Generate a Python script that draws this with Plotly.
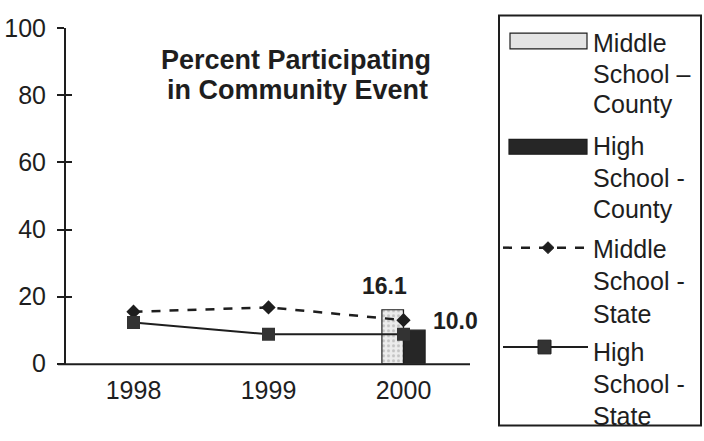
import plotly.graph_objects as go

W, H = 704, 441

years = ["1998", "1999", "2000"]
ms_county = [None, None, 16.1]
hs_county = [None, None, 10.0]
ms_state = [15.5, 16.8, 13.0]
hs_state = [12.3, 8.8, 8.8]
y_ticks = [0, 20, 40, 60, 80, 100]

FONT = "Arial, Liberation Sans, sans-serif"
INK = "#1e1e1e"

# the photographed page is squeezed vertically a little; positions below are
# given in photographed pixels and mapped back to figure pixels here
V_SCALE = 0.952
V_OFF = 11.0


def px(x):
    return x / W


def py(y_seen):
    y = y_seen / V_SCALE - V_OFF
    y = min(max(y, 0.5), H - 1.5)
    return 1 - y / H


fig = go.Figure()

fig.add_trace(go.Bar(
    x=years, y=ms_county, name="Middle School – County",
    marker=dict(color="#e8e8e8", line=dict(color=INK, width=1.2),
                pattern=dict(shape=".", fgcolor="#9a9a9a", bgcolor="#ececec", size=5, solidity=0.3)),
))
fig.add_trace(go.Bar(
    x=years, y=hs_county, name="High School - County",
    marker=dict(color="#262626", line=dict(color=INK, width=1.2)),
))
fig.add_trace(go.Scatter(
    x=years, y=ms_state, name="Middle School - State", mode="lines+markers",
    line=dict(color=INK, width=2.5, dash="dash"),
    marker=dict(symbol="diamond", size=11, color=INK),
))
fig.add_trace(go.Scatter(
    x=years, y=hs_state, name="High School - State", mode="lines+markers",
    line=dict(color=INK, width=2),
    marker=dict(symbol="square", size=13, color="#333333"),
))

# overlay axis for crossing tick marks
fig.add_trace(go.Scatter(x=[None], y=[None], yaxis="y2", showlegend=False, hoverinfo="skip"))

x_dom = [px(66), px(471)]
y_dom = [py(366), py(25)]

annotations = [
    dict(text="<b>Percent Participating</b>", x=px(296), y=py(57),
         xref="paper", yref="paper", showarrow=False, xanchor="center", yanchor="middle",
         font=dict(family=FONT, size=27, color=INK)),
    dict(text="<b>in Community Event</b>", x=px(297), y=py(88),
         xref="paper", yref="paper", showarrow=False, xanchor="center", yanchor="middle",
         font=dict(family=FONT, size=27, color=INK)),
    dict(text=f"<b>{ms_county[2]:.1f}</b>", x=px(384), y=py(287), xref="paper", yref="paper",
         showarrow=False, xanchor="center", yanchor="middle",
         font=dict(family=FONT, size=23, color=INK)),
    dict(text=f"<b>{hs_county[2]:.1f}</b>", x=px(455), y=py(323), xref="paper", yref="paper",
         showarrow=False, xanchor="center", yanchor="middle",
         font=dict(family=FONT, size=23, color=INK)),
]

legend_lines = [
    ("Middle", 40), ("School –", 71), ("County", 102),
    ("High", 145), ("School -", 177), ("County", 209),
    ("Middle", 249), ("School -", 282), ("State", 315),
    ("High", 354), ("School -", 387), ("State", 419),
]
for txt, yy in legend_lines:
    annotations.append(dict(text=txt, x=px(591), y=py(yy), xref="paper", yref="paper",
                            showarrow=False, xanchor="left", yanchor="middle",
                            font=dict(family=FONT, size=25, color=INK)))

shapes = [
    # legend box
    dict(type="rect", xref="paper", yref="paper", x0=px(499), x1=px(701), y0=py(436), y1=py(12),
         line=dict(color=INK, width=2), fillcolor="rgba(0,0,0,0)"),
    # swatch MS county
    dict(type="rect", xref="paper", yref="paper", x0=px(510), x1=px(587), y0=py(46), y1=py(30),
         line=dict(color=INK, width=1.2), fillcolor="#e4e4e4"),
    # swatch HS county
    dict(type="rect", xref="paper", yref="paper", x0=px(509), x1=px(587), y0=py(153), y1=py(138),
         line=dict(color=INK, width=1.2), fillcolor="#262626"),
    # MS state dashed
    dict(type="line", xref="paper", yref="paper", x0=px(503), x1=px(590), y0=py(248), y1=py(248),
         line=dict(color=INK, width=2.5, dash="dash")),
    dict(type="path", xref="paper", yref="paper",
         path=f"M {px(548)} {py(242)} L {px(554)} {py(248)} L {px(548)} {py(254)} L {px(542)} {py(248)} Z",
         line=dict(color=INK, width=1), fillcolor=INK),
    # HS state
    dict(type="line", xref="paper", yref="paper", x0=px(503), x1=px(588), y0=py(349), y1=py(349),
         line=dict(color=INK, width=2)),
    dict(type="rect", xref="paper", yref="paper", x0=px(538), x1=px(551), y0=py(356), y1=py(342),
         line=dict(color=INK, width=1), fillcolor="#333333"),
    # x baseline, extending slightly left of the y axis
    dict(type="line", xref="paper", yref="paper", x0=px(58), x1=px(470), y0=py(366.5), y1=py(366.5),
         line=dict(color=INK, width=2)),
]

fig.update_layout(
    width=W, height=H,
    margin=dict(l=0, r=0, t=0, b=0),
    paper_bgcolor="white", plot_bgcolor="white",
    showlegend=False,
    barmode="group", bargap=0.68, bargroupgap=0,
    font=dict(family=FONT, size=25, color=INK),
    xaxis=dict(domain=x_dom, type="category", range=[-0.5, 2.5], showgrid=False,
               showline=False, ticks="", zeroline=False,
               tickfont=dict(family=FONT, size=25, color=INK), ticklabelstandoff=9),
    yaxis=dict(domain=y_dom, range=[0, 100], tickvals=y_ticks, showgrid=False,
               showline=True, linecolor=INK, linewidth=2, ticks="outside", ticklen=7,
               tickcolor=INK, tickwidth=1.5, zeroline=False,
               tickfont=dict(family=FONT, size=25, color=INK), ticklabelstandoff=6),
    yaxis2=dict(domain=y_dom, range=[0, 100], overlaying="y", side="left", tickvals=y_ticks,
                showticklabels=False, ticks="inside", ticklen=6, tickcolor=INK, tickwidth=1.5,
                showgrid=False, zeroline=False, showline=False),
    annotations=annotations,
    shapes=shapes,
)

fig.write_html("out.html")
